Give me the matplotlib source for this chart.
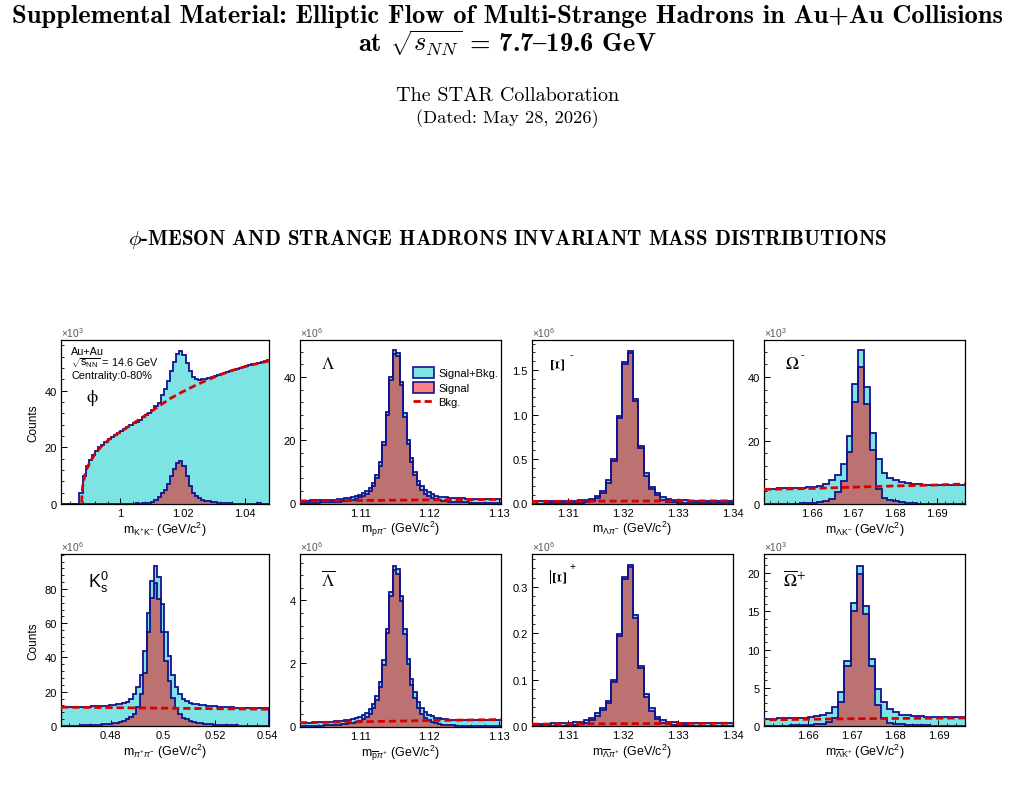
import numpy as np
import matplotlib
matplotlib.use('Agg')
import matplotlib.pyplot as plt
from matplotlib.patches import Patch
from matplotlib.lines import Line2D
from matplotlib.ticker import AutoMinorLocator

plt.rcParams['font.family'] = ['Liberation Sans', 'DejaVu Sans']
plt.rcParams['mathtext.fontset'] = 'custom'
plt.rcParams['mathtext.rm'] = 'Liberation Sans'
plt.rcParams['mathtext.it'] = 'Liberation Sans:italic'
plt.rcParams['mathtext.bf'] = 'Liberation Sans:bold'

# ---------------- datos ----------------
# phi -> K+K-   (x10^3), bins de 0.001 desde 0.981
phi_start, phi_w = 0.981, 0.001
phi_total = [0, 0, 0, 0, 0, 0,
             4, 10, 13.5, 15.5, 17.3, 18.8, 20, 21, 22, 23,
             23.8, 24.5, 25.2, 25.9, 26.6, 27.3, 27.9, 28.5, 29.1, 29.8,
             30.6, 31.4, 32.3, 33.2, 34.5, 35.8, 38.5, 40.5, 43.5, 47.0,
             50.3, 52.8, 53.9, 52.7, 49.7, 46.8, 44.8, 44.1, 43.8, 44.0,
             44.2, 44.5, 44.8, 45.1, 45.5, 45.8, 46.2, 46.6, 47.0, 47.4,
             47.8, 48.1, 48.4, 48.7, 49.0, 49.3, 49.6, 49.9, 50.2, 50.5,
             50.7]
phi_signal = [0] * 24 + [
    0.2, 0.1, 0.3, 0.4, 0.5, 0.8,
    1.3, 2.4, 3.8, 5.0, 7.0, 10.0, 12.5, 14.5, 15.2, 13.5,
    10.0, 6.5, 4.0, 2.8, 2.0, 1.5, 1.1, 0.9, 0.7, 0.6,
    0.5, 0.3, 0.4, 0.2, 0.2, 0.1, 0.0, 0.1, 0.0, 0.0,
    0.1, 0.0, 0.0, 0.2, 0.1, 0.0, 0.1]
phi_bkg_x = [0.9877, 0.9880, 0.9890, 0.9900, 0.9920, 0.9940, 0.9960, 0.9980, 1.0000,
             1.0040, 1.0080, 1.0120, 1.0160, 1.0200, 1.0240, 1.0280, 1.0320, 1.0360,
             1.0400, 1.0440, 1.0477]
phi_bkg_y = [0.5, 6.0, 11.5, 14.0, 17.8, 20.3, 22.3, 24.0, 25.4,
             28.3, 31.2, 34.2, 37.2, 39.6, 41.8, 43.8, 45.6, 47.2,
             48.5, 49.6, 50.5]

# Lambda -> p pi-   (x10^6), bins de 0.0005
lam_start, lam_w = 1.1012, 0.0005
lam_total = [0.9, 0.9, 0.9, 0.95, 0.95, 1.0, 1.0, 1.05, 1.1, 1.2, 1.25, 1.35, 1.45, 1.6, 1.8,
             2.0, 2.3, 2.7, 3.3, 4.0, 5.0, 6.5, 9.0, 13.0, 19.5, 29.0, 40.0, 48.4, 47.6,
             38.5, 28.5, 20.0, 14.3, 10.0, 7.2, 5.4, 4.3, 3.5, 2.9, 2.5, 2.2, 2.0, 1.9,
             1.8, 1.7, 1.65, 1.6, 1.6, 1.55, 1.55, 1.5, 1.5, 1.5, 1.5, 1.5, 1.5, 1.5, 1.5, 1.5]
lam_signal = [0.2, 0.2, 0.25, 0.25, 0.3, 0.3, 0.35, 0.4, 0.45, 0.5, 0.55, 0.6, 0.7, 0.85, 1.0,
              1.2, 1.5, 1.9, 2.4, 3.1, 4.0, 5.5, 8.0, 12.0, 18.5, 28.0, 39.0, 47.4, 46.6,
              37.5, 27.4, 18.9, 13.2, 8.9, 6.0, 4.2, 3.1, 2.3, 1.7, 1.3, 1.0, 0.8, 0.7,
              0.6, 0.5, 0.45, 0.4, 0.35, 0.35, 0.3, 0.3, 0.3, 0.25, 0.25, 0.25, 0.2, 0.2, 0.2, 0.2]
lam_bkg_x = [1.1013, 1.110, 1.120, 1.1303]
lam_bkg_y = [0.8, 0.95, 1.15, 1.3]

# anti-Lambda -> pbar pi+   (x10^6)
alam_total = [0.12, 0.12, 0.12, 0.12, 0.13, 0.13, 0.13, 0.14, 0.14, 0.15, 0.16, 0.17, 0.18, 0.2, 0.22,
              0.24, 0.27, 0.31, 0.36, 0.44, 0.55, 0.72, 0.98, 1.4, 2.1, 3.1, 4.28, 5.1, 5.0,
              4.13, 3.1, 2.15, 1.5, 1.08, 0.78, 0.58, 0.46, 0.38, 0.32, 0.28, 0.26, 0.24, 0.23,
              0.22, 0.22, 0.21, 0.21, 0.21, 0.21, 0.21, 0.21, 0.21, 0.21, 0.21, 0.21, 0.21, 0.21, 0.21, 0.21]
alam_signal = [0.02, 0.02, 0.02, 0.02, 0.03, 0.03, 0.03, 0.04, 0.04, 0.04, 0.05, 0.06, 0.07, 0.08, 0.1,
               0.12, 0.14, 0.18, 0.23, 0.3, 0.41, 0.58, 0.84, 1.26, 1.95, 2.95, 4.13, 4.95, 4.85,
               3.97, 2.94, 1.98, 1.33, 0.9, 0.6, 0.4, 0.28, 0.2, 0.14, 0.1, 0.08, 0.06, 0.05,
               0.04, 0.04, 0.03, 0.03, 0.03, 0.02, 0.02, 0.02, 0.02, 0.02, 0.02, 0.02, 0.02, 0.02, 0.02, 0.02]
alam_bkg_x = [1.1013, 1.110, 1.120, 1.1303]
alam_bkg_y = [0.12, 0.15, 0.19, 0.22]

# Xi- / anti-Xi+ -> Lambda pi   (x10^6), bins de 0.001
xi_start, xi_w = 1.3028, 0.001
xim_total = [0.025, 0.025, 0.025, 0.026, 0.026, 0.027, 0.028, 0.029, 0.031, 0.034,
             0.04, 0.05, 0.086, 0.14, 0.26, 0.50, 0.99, 1.59, 1.72, 1.18,
             0.65, 0.34, 0.19, 0.12, 0.068, 0.048, 0.04, 0.036, 0.034, 0.033,
             0.032, 0.032, 0.032, 0.031, 0.031, 0.031, 0.031, 0.031]
xim_signal = [0, 0, 0, 0.001, 0.001, 0.002, 0.003, 0.004, 0.006, 0.009,
              0.015, 0.025, 0.06, 0.115, 0.235, 0.475, 0.965, 1.565, 1.695, 1.155,
              0.625, 0.315, 0.165, 0.095, 0.043, 0.022, 0.014, 0.01, 0.008, 0.006,
              0.005, 0.004, 0.003, 0.003, 0.002, 0.002, 0.001, 0.001]
xim_bkg_x = [1.3033, 1.320, 1.340]
xim_bkg_y = [0.024, 0.027, 0.030]

axip_total = [0.005, 0.005, 0.005, 0.005, 0.006, 0.006, 0.006, 0.007, 0.008, 0.009,
              0.012, 0.017, 0.027, 0.039, 0.054, 0.10, 0.199, 0.322, 0.347, 0.239,
              0.13, 0.068, 0.038, 0.02, 0.012, 0.009, 0.008, 0.007, 0.007, 0.007,
              0.006, 0.006, 0.006, 0.006, 0.006, 0.006, 0.006, 0.006]
axip_signal = [0, 0, 0, 0, 0.001, 0.001, 0.001, 0.002, 0.003, 0.004,
               0.007, 0.012, 0.022, 0.034, 0.049, 0.095, 0.194, 0.317, 0.342, 0.234,
               0.125, 0.063, 0.033, 0.015, 0.007, 0.004, 0.003, 0.002, 0.002, 0.001,
               0.001, 0.001, 0, 0, 0, 0, 0, 0]
axip_bkg_x = [1.3033, 1.320, 1.340]
axip_bkg_y = [0.004, 0.005, 0.006]

# Omega- / anti-Omega+ -> Lambda K   (x10^3), bins de 0.0014
om_start, om_w = 1.6474, 0.0014
omm_total = [4.8, 4.8, 4.8, 4.9, 4.9, 5.0, 5.1, 5.2, 5.3,
             5.5, 5.8, 6.2, 7.5, 9.0, 12.5, 21.4, 37.7,
             48.4,
             36.9, 22.5, 14.3, 9.9, 8.3, 7.5, 6.9, 6.5, 6.3, 6.2, 6.1, 6.1, 6.0, 6.0, 6.0, 6.0, 6.1, 6.1]
omm_signal = [0, 0, 0, 0, 0, 0, 0.1, 0.2, 0.3,
              0.4, 0.5, 0.9, 1.7, 3.8, 7.1, 16.4, 32.3,
              43.2,
              31.6, 16.9, 4.8, 1.9, 1.2, 0.8, 0.5, 0.3, 0.2, 0.1, 0.1, 0, 0, 0, 0, 0, 0, 0]
omm_bkg_x = [1.6486, 1.660, 1.670, 1.680, 1.690, 1.6968]
omm_bkg_y = [4.6, 4.9, 5.3, 5.7, 6.0, 6.3]

aomp_total = [0.9, 0.9, 0.9, 0.9, 1.0, 1.0, 1.0, 1.1, 1.1,
              1.2, 1.3, 1.4, 1.7, 2.5, 4.4, 8.5, 16.1,
              20.9,
              15.7, 8.8, 4.9, 3.1, 2.2, 1.8, 1.5, 1.4, 1.3, 1.3, 1.2, 1.2, 1.2, 1.2, 1.2, 1.2, 1.2, 1.2]
aomp_signal = [0, 0, 0, 0, 0, 0, 0.1, 0.1, 0.1,
               0.15, 0.2, 0.3, 0.5, 1.05, 3.2, 7.8, 15.1,
               19.9,
               14.6, 7.8, 2.7, 1.05, 0.45, 0.3, 0.2, 0.15, 0.1, 0.1, 0.1, 0.05, 0.05, 0, 0, 0, 0, 0]
aomp_bkg_x = [1.6486, 1.670, 1.6968]
aomp_bkg_y = [0.8, 0.95, 1.05]

# K0s -> pi+ pi-   (x10^6), 60 bins
k0_start, k0_w = 0.4605, 0.08 / 60
k0_total = [11.0, 11.0, 11.0, 11.0, 11.1, 11.1, 11.2, 11.2, 11.3, 11.4,
            11.5, 11.6, 11.7, 11.9, 12.1, 12.3, 12.6, 12.9, 13.5, 14.3,
            16.0, 18.5, 23.0, 30.0, 44.0, 66.0, 84.5, 93.6, 87.0, 71.0,
            55.0, 41.0, 29.5, 22.5, 18.4, 15.8, 14.5, 13.6, 13.0, 12.6,
            12.3, 12.1, 11.9, 11.7, 11.5, 11.3, 11.2, 11.0, 10.9, 10.8,
            10.7, 10.6, 10.6, 10.5, 10.5, 10.4, 10.4, 10.3, 10.3, 10.3]
k0_signal = [0.0, 0.0, 0.1, 0.1, 0.2, 0.2, 0.3, 0.4, 0.5, 0.6,
             0.7, 0.8, 1.0, 1.2, 1.4, 1.7, 2.0, 2.3, 3.0, 3.9,
             5.2, 7.0, 11.0, 18.5, 31.0, 55.0, 75.0, 83.5, 74.0, 55.0,
             38.0, 26.0, 16.5, 10.7, 7.0, 4.8, 3.8, 2.9, 2.3, 1.9,
             1.6, 1.4, 1.2, 1.0, 0.8, 0.7, 0.6, 0.5, 0.4, 0.35,
             0.3, 0.25, 0.2, 0.2, 0.15, 0.1, 0.1, 0.1, 0.05, 0.0]
k0_bkg_x = [0.461, 0.48, 0.50, 0.52, 0.5405]
k0_bkg_y = [11.0, 10.7, 10.4, 10.1, 9.8]

# ---------------- estilo ----------------
CIAN = '#7de3e3'
ROJO_SIG = '#bd7272'
SALMON = '#ff8080'
AZUL = '#12128f'
ROJO = '#d80000'
W, H = 1015, 804

fig = plt.figure(figsize=(W / 100, H / 100), dpi=100)


def eje(left, top, right, bottom):
    return fig.add_axes([left / W, 1 - bottom / H, (right - left) / W, (bottom - top) / H])


def panel(ax, start, w, total, signal, bx, by, xlim, ylim, xticks, xtl, yticks, ytl, expo, xlabel):
    edges = start + w * np.arange(len(total) + 1)
    ax.stairs(total, edges, fill=True, color=CIAN, zorder=1)
    ax.stairs(signal, edges, fill=True, color=ROJO_SIG, zorder=2)
    ax.stairs(total, edges, color=AZUL, lw=1.3, zorder=3)
    ax.stairs(signal, edges, color=AZUL, lw=1.3, zorder=3)
    ax.plot(bx, by, color=ROJO, lw=2.0, ls=(0, (2.6, 1.4)), zorder=4)
    ax.set_xlim(*xlim)
    ax.set_ylim(*ylim)
    ax.set_xticks(xticks, xtl)
    ax.set_yticks(yticks, ytl)
    ax.xaxis.set_minor_locator(AutoMinorLocator(5))
    ax.yaxis.set_minor_locator(AutoMinorLocator(5))
    ax.tick_params(which='both', direction='in', top=False, right=False, labelsize=8, pad=3)
    ax.tick_params(which='major', length=4.5, width=0.7)
    ax.tick_params(which='minor', length=2.3, width=0.6)
    for s in ax.spines.values():
        s.set_linewidth(0.9)
    ax.set_xlabel(xlabel, fontsize=9, labelpad=1)
    ax.text(0.0, 1.005, r'$\times$10$^{%d}$' % expo, transform=ax.transAxes, fontsize=7.3,
            color='#555555', ha='left', va='bottom')


# fila 1
a1 = eje(61, 341, 269, 505)
panel(a1, phi_start, phi_w, phi_total, phi_signal, phi_bkg_x, phi_bkg_y,
      (0.9811, 1.0477), (0, 57.9), [1.0, 1.02, 1.04], ['1', '1.02', '1.04'],
      [0, 20, 40], ['0', '20', '40'], 3, r'm$_{\mathrm{K^{+}K^{-}}}$ (GeV/c$^{2}$)')
a1.set_ylabel('Counts', fontsize=8.5, labelpad=4)
a1.text(0.05, 0.935, 'Au+Au', transform=a1.transAxes, fontsize=7.8, va='center')
a1.text(0.05, 0.865, r'$\sqrt{\mathrm{s_{NN}}}$ = 14.6 GeV', transform=a1.transAxes, fontsize=7.8, va='center')
a1.text(0.05, 0.785, 'Centrality:0-80%', transform=a1.transAxes, fontsize=7.8, va='center')
a1.text(0.15, 0.655, r'$\mathrm{\phi}$', transform=a1.transAxes, fontsize=13, va='center', ha='center',
        math_fontfamily='stix')

a2 = eje(300, 341, 500.7, 504.5)
panel(a2, lam_start, lam_w, lam_total, lam_signal, lam_bkg_x, lam_bkg_y,
      (1.1013, 1.1303), (0, 51.7), [1.11, 1.12, 1.13], ['1.11', '1.12', '1.13'],
      [0, 20, 40], ['0', '20', '40'], 6, r'm$_{\mathrm{p}\pi^{-}}$ (GeV/c$^{2}$)')
a2.text(0.14, 0.86, r'$\Lambda$', transform=a2.transAxes, fontsize=12.5, ha='center', va='center',
        math_fontfamily='stix')
mano = [Patch(facecolor=CIAN, edgecolor=AZUL, lw=1.2),
        Patch(facecolor=SALMON, edgecolor=AZUL, lw=1.2),
        Line2D([0], [0], color=ROJO, lw=2.0, ls=(0, (2.6, 1.4)))]
a2.legend(mano, ['Signal+Bkg.', 'Signal', 'Bkg.'], loc='upper left', bbox_to_anchor=(0.565, 0.835),
          frameon=False, fontsize=8, handlelength=1.85, handleheight=1.15, labelspacing=0.3,
          borderpad=0, borderaxespad=0, handletextpad=0.4)

a3 = eje(531.7, 341, 732.7, 504.5)
panel(a3, xi_start, xi_w, xim_total, xim_signal, xim_bkg_x, xim_bkg_y,
      (1.3033, 1.3400), (0, 1.84), [1.31, 1.32, 1.33, 1.34], ['1.31', '1.32', '1.33', '1.34'],
      [0, 0.5, 1.0, 1.5], ['0.0', '0.5', '1.0', '1.5'], 6, r'm$_{\mathrm{\Lambda}\pi^{-}}$ (GeV/c$^{2}$)')
a3.text(0.145, 0.86, r'$\Xi$', transform=a3.transAxes, fontsize=13.5, ha='center', va='center',
        rotation=90, math_fontfamily='stix')
a3.text(0.195, 0.915, '-', transform=a3.transAxes, fontsize=7.5, ha='center', va='center')

a4 = eje(764, 341, 965, 505)
panel(a4, om_start, om_w, omm_total, omm_signal, omm_bkg_x, omm_bkg_y,
      (1.6486, 1.6968), (0, 51.7), [1.66, 1.67, 1.68, 1.69], ['1.66', '1.67', '1.68', '1.69'],
      [0, 20, 40], ['0', '20', '40'], 3, r'm$_{\mathrm{\Lambda K^{-}}}$ (GeV/c$^{2}$)')
a4.text(0.14, 0.86, r'$\Omega$', transform=a4.transAxes, fontsize=12.5, ha='center', va='center',
        math_fontfamily='stix')
a4.text(0.19, 0.915, '-', transform=a4.transAxes, fontsize=7.5, ha='center', va='center')

# fila 2
a5 = eje(61, 555, 269, 727)
panel(a5, k0_start, k0_w, k0_total, k0_signal, k0_bkg_x, k0_bkg_y,
      (0.461, 0.5405), (0, 100.4), [0.48, 0.5, 0.52, 0.54], ['0.48', '0.5', '0.52', '0.54'],
      [0, 20, 40, 60, 80], ['0', '20', '40', '60', '80'], 6, r'm$_{\pi^{+}\pi^{-}}$ (GeV/c$^{2}$)')
a5.set_ylabel('Counts', fontsize=8.5, labelpad=4)
a5.text(0.18, 0.84, r'K$_{\mathrm{s}}^{0}$', transform=a5.transAxes, fontsize=13, ha='center', va='center')

a6 = eje(300, 555, 500.7, 727.5)
panel(a6, lam_start, lam_w, alam_total, alam_signal, alam_bkg_x, alam_bkg_y,
      (1.1013, 1.1303), (0, 5.47), [1.11, 1.12, 1.13], ['1.11', '1.12', '1.13'],
      [0, 2, 4], ['0', '2', '4'], 6, r'm$_{\overline{\mathrm{p}}\pi^{+}}$ (GeV/c$^{2}$)')
a6.text(0.14, 0.86, r'$\overline{\Lambda}$', transform=a6.transAxes, fontsize=12.5, ha='center', va='center',
        math_fontfamily='stix')

a7 = eje(531.7, 555, 732.7, 727)
panel(a7, xi_start, xi_w, axip_total, axip_signal, axip_bkg_x, axip_bkg_y,
      (1.3033, 1.3400), (0, 0.371), [1.31, 1.32, 1.33, 1.34], ['1.31', '1.32', '1.33', '1.34'],
      [0, 0.1, 0.2, 0.3], ['0.0', '0.1', '0.2', '0.3'], 6,
      r'm$_{\overline{\mathrm{\Lambda}}\pi^{+}}$ (GeV/c$^{2}$)')
a7.text(0.145, 0.87, r'$\overline{\Xi}$', transform=a7.transAxes, fontsize=13.5, ha='center', va='center',
        rotation=90, math_fontfamily='stix')
a7.text(0.205, 0.93, '+', transform=a7.transAxes, fontsize=7.5, ha='center', va='center')

a8 = eje(764, 555, 965, 727)
panel(a8, om_start, om_w, aomp_total, aomp_signal, aomp_bkg_x, aomp_bkg_y,
      (1.6499, 1.6961), (0, 22.5), [1.66, 1.67, 1.68, 1.69], ['1.66', '1.67', '1.68', '1.69'],
      [0, 5, 10, 15, 20], ['0', '5', '10', '15', '20'], 3,
      r'm$_{\overline{\mathrm{\Lambda}}\mathrm{K^{+}}}$ (GeV/c$^{2}$)')
a8.text(0.15, 0.86, r'$\overline{\Omega}^{+}$', transform=a8.transAxes, fontsize=12.5, ha='center', va='center',
        math_fontfamily='stix')

# texto de la pagina
serif_b = ['cmb10', 'DejaVu Serif']
serif_r = ['cmr10', 'DejaVu Serif']
fig.text(0.5, 1 - 23 / H, 'Supplemental Material: Elliptic Flow of Multi-Strange Hadrons in Au+Au Collisions',
         ha='center', va='baseline', fontsize=19.1, family=serif_b)
# en cmb10 el caracter '{' es la raya corta (en dash)
fig.text(0.5, 1 - 51 / H, r'at $\sqrt{s_{NN}}$ = 7.7{19.6 GeV', ha='center', va='baseline',
         fontsize=19.1, family=serif_b, math_fontfamily='cm')
fig.text(0.5, 1 - 101 / H, 'The STAR Collaboration', ha='center', va='baseline', fontsize=14.5, family=serif_r)
fig.text(0.5, 1 - 123 / H, '(Dated: May 28, 2026)', ha='center', va='baseline', fontsize=13.3, family=serif_r)
fig.text(0.5, 1 - 245 / H, r'$\phi$-MESON AND STRANGE HADRONS INVARIANT MASS DISTRIBUTIONS',
         ha='center', va='baseline', fontsize=15.1, family=serif_b, math_fontfamily='cm')

fig.savefig('out.png', dpi=100)
